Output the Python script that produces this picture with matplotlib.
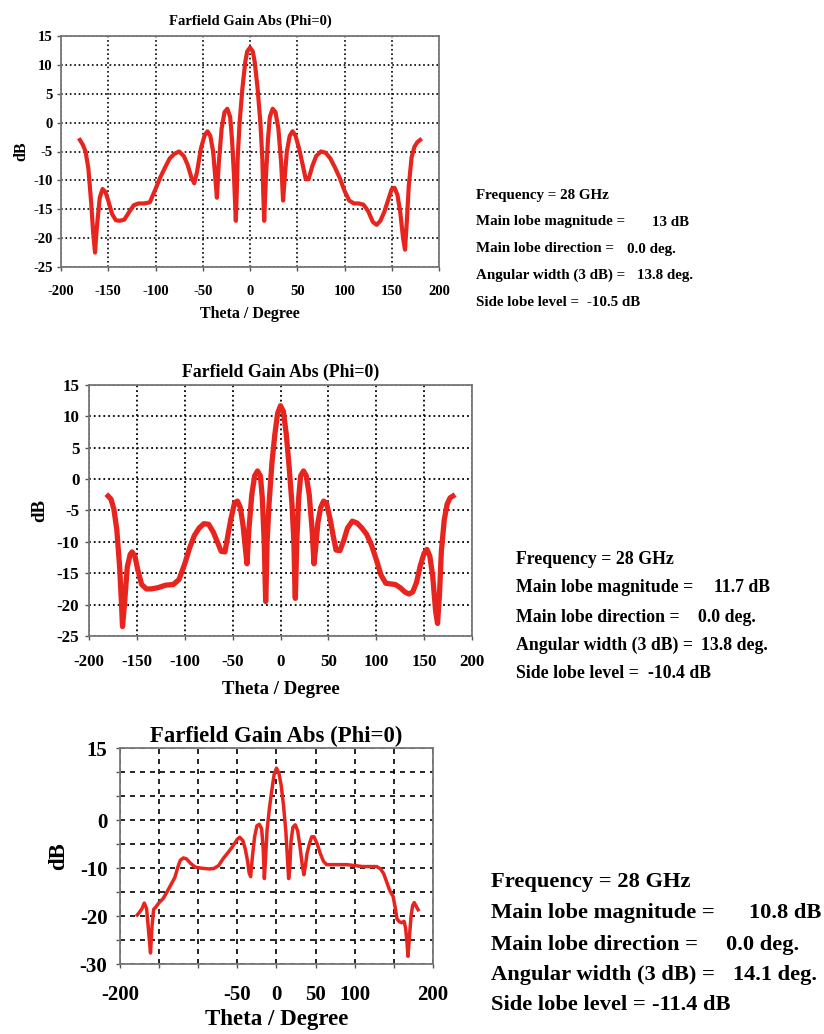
import matplotlib
matplotlib.use("Agg")
import matplotlib.pyplot as plt

plt.rcParams["axes.unicode_minus"] = False

# ---------------- data ----------------
theta1 = [-180, -177, -174, -171, -168, -166, -164, -162, -159, -156, -153, -150, -146, -142, -138, -133,
          -128, -123, -118, -112, -106, -100, -95, -90, -85, -80, -75, -70, -66, -62, -59, -56, -52, -48,
          -45, -42, -39, -37, -35, -33, -30, -27, -24, -21, -19, -17, -15, -14, -13, -11, -8, -5, -3, 0,
          3, 5, 8, 11, 13, 14, 15, 17, 19, 21, 24, 27, 30, 33, 35, 37, 39, 42, 45, 48, 52, 56, 59, 62,
          66, 70, 75, 80, 85, 90, 95, 100, 105, 110, 115, 120, 125, 130, 134, 138, 142, 146, 150, 153,
          156, 159, 162, 164, 166, 168, 171, 174, 177, 180]
gain1 = [-3, -3.8, -5, -8, -14, -19, -22.5, -18, -13, -11.5, -12, -13.5, -15.8, -16.9, -17, -16.8,
         -15.5, -14.3, -14, -14, -13.8, -11.5, -9.5, -7.8, -6.2, -5.4, -5, -5.8, -7.3, -9.5, -10.5, -8.5, -4.5, -2.2,
         -1.5, -2.3, -5, -9, -13, -7, -1, 1.8, 2.4, 1, -3, -9, -17, -12, -6, 0, 6, 10.5, 12.3, 13,
         12.3, 10.5, 6, 0, -6, -12, -17, -9, -3, 1, 2.4, 1.8, -1, -7, -13.5, -9, -5, -2.3, -1.5, -2.2, -4.5, -7.5, -9.8, -9.8,
         -7.5, -5.8, -5, -5.2, -6.2, -7.8, -9.6, -11.8, -13.5, -14, -14, -14.2, -15.3, -17.2, -17.7, -17, -15.5, -13.5, -11.5, -11.3,
         -12.5, -15.5, -20, -22, -17, -11, -6, -4.2, -3.4, -3]

theta2 = [-180, -177, -174, -171, -168, -166, -165, -163, -160, -157, -155, -152, -149, -145, -140, -135,
          -128, -120, -112, -106, -100, -95, -90, -85, -80, -75, -70, -66, -62, -58, -55, -52, -48, -45,
          -42, -39, -37, -35, -33, -30, -27, -24, -21, -19, -17, -15.5, -15, -14, -12, -9, -6, -3, 0,
          3, 6, 9, 12, 14, 15, 15.5, 17, 19, 21, 24, 27, 30, 33, 35, 37, 39, 42, 45, 48, 52, 55, 58,
          62, 66, 70, 75, 80, 85, 90, 95, 100, 105, 110, 115, 120, 125, 130, 134, 138, 142, 146, 150,
          153, 156, 159, 162, 164, 166, 168, 171, 174, 177, 180]
gain2 = [-2.7, -3.2, -4.8, -8, -14, -20, -23.5, -20, -14, -12, -11.6, -12.3, -14.5, -16.8, -17.5, -17.5,
         -17.3, -16.9, -16.8, -16, -13.5, -11, -9, -7.8, -7.1, -7.2, -8.5, -10, -11.5, -11.6, -9, -6.5, -3.8, -3.5,
         -4.5, -7.5, -10.5, -13.5, -8, -2.5, 0.5, 1.3, 0.5, -3, -10, -19.5, -17, -10, -4, 2.5, 7, 10.5, 11.7,
         10.8, 7.2, 2, -4, -10, -17, -19, -10, -3, 0.5, 1.3, 0.5, -2.5, -8, -13.5, -10.5, -7, -4.5, -3.5, -3.8, -6.5, -9, -11.3,
         -11.4, -9.8, -7.8, -6.7, -7, -7.8, -8.8, -10.5, -12.8, -15.3, -16.6, -16.7, -16.8, -17.3, -18, -18.3, -18, -16.5, -13.8, -11.8,
         -11.2, -12.3, -15.5, -21, -23, -18.5, -11.5, -6.5, -4, -3, -2.7]

theta3 = [-178, -175, -172, -169, -166, -163, -161, -159, -157, -155, -150, -145, -140, -135, -130, -126,
          -123, -119, -115, -110, -104, -98, -92, -86, -80, -74, -68, -62, -56, -50, -47, -43, -40, -37, -35,
          -33, -31, -28, -25, -22, -19, -17, -15.5, -14, -12, -9, -6, -3, 0, 3, 6, 9, 12, 14, 15.5,
          17, 18.5, 21, 24, 27, 30, 33, 35, 37, 39, 42, 45, 48, 52, 56, 60, 64, 70, 80, 90, 100, 110,
          120, 128, 133, 137, 141, 145, 149, 152, 154, 157, 160, 163, 165, 167, 168, 170, 172, 174, 176, 178, 181]
gain3 = [-19.8, -19.2, -18.5, -17.3, -18.5, -24, -27.7, -22, -18.6, -18.3, -17.2, -16.4, -15, -13.5, -12, -9.8,
         -8.4, -7.9, -8.1, -9, -9.8, -10, -10.1, -10.2, -10.1, -9.5, -8, -6.8, -5.5, -4, -3.6, -4.3, -6, -8.5, -11,
         -11.8, -8, -3.5, -1.2, -0.9, -1.8, -6, -12.2, -8, -2, 2.5, 6.2, 9.5, 10.8, 9.8, 7.2, 3, -2.5, -8, -12.2,
         -10, -4.5, -1.5, -1, -2.2, -5.5, -9.5, -11.4, -9.5, -7, -5, -3.5, -3.5, -5, -7, -8.6, -9.3, -9.3, -9.3, -9.3, -9.5, -9.7,
         -9.7, -9.7, -10.2, -11.2, -13, -14.8, -15.9, -18.5, -20.6, -21.2, -21.4, -21.1, -22.5, -26, -28.4, -24, -20, -17.8, -17.2, -17.8, -18.7]

titles = ["Farfield Gain Abs (Phi=0)"] * 3
xlabel = "Theta / Degree"
ylabel = "dB"

info_labels = ["Frequency = 28 GHz", "Main lobe magnitude =", "Main lobe direction =",
               "Angular width (3 dB) =", "Side lobe level ="]
info_values1 = ["", "13 dB", "0.0 deg.", "13.8 deg.", "-10.5 dB"]
info_values2 = ["", "11.7 dB", "0.0 deg.", "13.8 deg.", "-10.4 dB"]
info_values3 = ["", "10.8 dB", "0.0 deg.", "14.1 deg.", "-11.4 dB"]

xticks = [-200, -150, -100, -50, 0, 50, 100, 150, 200]
yticks12 = [15, 10, 5, 0, -5, -10, -15, -20, -25]
xtick_labels3 = ["-200", "", "", "-50", "0", "50", "100", "", "200"]
yticks3 = [15, 10, 5, 0, -5, -10, -15, -20, -25, -30]
ytick_labels3 = ["15", "", "", "0", "", "-10", "", "-20", "", "-30"]

# ---------------- figure ----------------
W, H = 824, 1034
fig = plt.figure(figsize=(W / 100, H / 100), dpi=100)
FONT = "Liberation Serif"
RED = "#e8241e"


def px_axes(left, top, right, bottom):
    return fig.add_axes([left / W, 1 - bottom / H, (right - left) / W, (bottom - top) / H])


def style(ax, fs_tick, fs_lab, fs_title, ls, gw, xpad, ypad, xlpad, ylpad, tpad):
    ax.grid(True, color="black", linestyle=ls, linewidth=gw)
    ax.set_axisbelow(True)
    for s in ax.spines.values():
        s.set_color("#777777")
        s.set_linewidth(1.3)
    ax.tick_params(direction="out", length=3, width=1, color="#555555")
    ax.tick_params(axis="x", pad=xpad)
    ax.tick_params(axis="y", pad=ypad)
    for lab in ax.get_xticklabels() + ax.get_yticklabels():
        lab.set_fontfamily(FONT)
        lab.set_fontweight("bold")
        lab.set_fontsize(fs_tick)
    ax.set_xlabel(xlabel, fontfamily=FONT, fontweight="bold", fontsize=fs_lab, labelpad=xlpad)
    ax.set_ylabel(ylabel, fontfamily=FONT, fontweight="bold", fontsize=fs_lab, labelpad=ylpad)
    ax.set_title(titles[0], fontfamily=FONT, fontweight="bold", fontsize=fs_title, pad=tpad)


def info(x0, ys, vxs, values, fs):
    for lab, val, y, vx in zip(info_labels, values, ys, vxs):
        fig.text(x0 / W, 1 - y / H, lab, fontfamily=FONT, fontweight="bold", fontsize=fs, va="center")
        if val:
            fig.text(vx / W, 1 - y / H, val, fontfamily=FONT, fontweight="bold", fontsize=fs, va="center")


# chart 1
ax1 = px_axes(61, 36, 439, 267)
ax1.plot(theta1, gain1, color=RED, linewidth=3)
ax1.set_xlim(-200, 200)
ax1.set_ylim(-25, 15)
ax1.set_xticks(xticks)
ax1.set_yticks(yticks12)
style(ax1, 10.5, 11.5, 10.5, ":", 1.2, 10, 3, 6, 3, 8)
info(476, [195, 222, 249, 275, 302], [0, 652, 627, 637, 587], info_values1, 10.8)

# chart 2
ax2 = px_axes(89, 385, 472, 636)
ax2.plot(theta2, gain2, color=RED, linewidth=3.8)
ax2.set_xlim(-200, 200)
ax2.set_ylim(-25, 15)
ax2.set_xticks(xticks)
ax2.set_yticks(yticks12)
style(ax2, 12.2, 13.5, 12.8, ":", 1.3, 10, 4, 8, 6, 6)
info(516, [559, 587, 617, 645, 673], [0, 714, 698, 701, 648], info_values2, 12.8)

# chart 3
ax3 = px_axes(120, 748, 433, 964)
ax3.plot(theta3, gain3, color=RED, linewidth=2.5)
ax3.set_xlim(-200, 200)
ax3.set_ylim(-30, 15)
ax3.set_xticks(xticks)
ax3.set_xticklabels(xtick_labels3)
ax3.set_yticks(yticks3)
ax3.set_yticklabels(ytick_labels3)
style(ax3, 15, 16.5, 16.4, (0, (3, 3)), 1.2, 12, 6, 3, 8, 4)
info(491, [882, 913, 945, 975, 1005], [0, 749, 726, 733, 652], info_values3, 16.2)

fig.savefig("out.png", dpi=100, facecolor="white")
